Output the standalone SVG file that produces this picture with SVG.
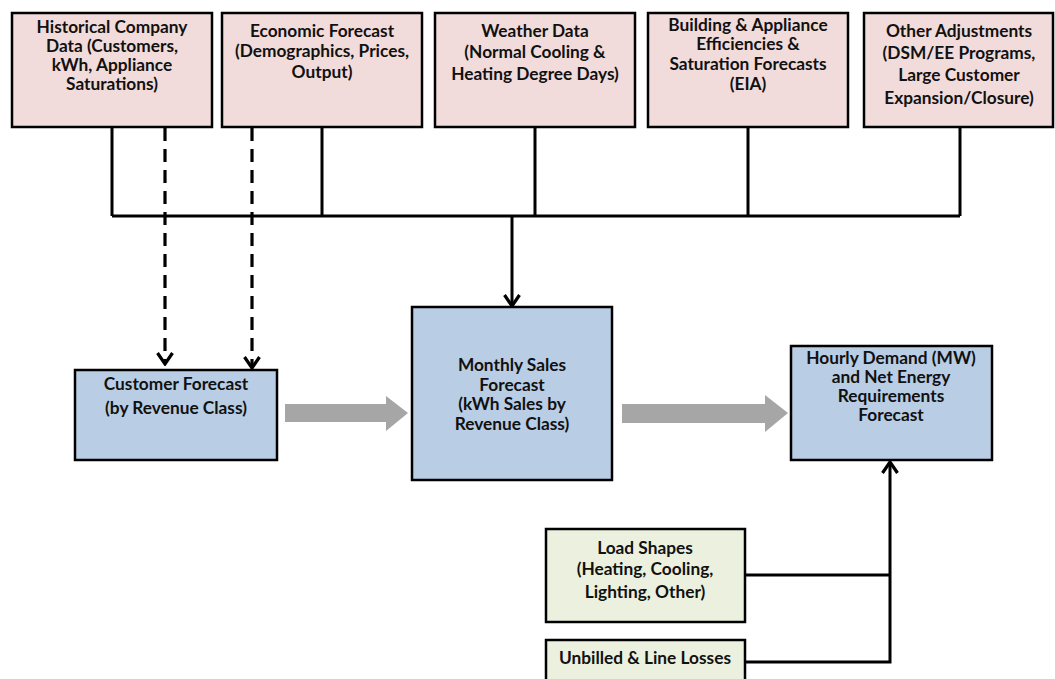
<svg xmlns="http://www.w3.org/2000/svg" width="1055" height="679" viewBox="0 0 1055 679">
<style>
.box{stroke:#000;stroke-width:2.5}
.pink{fill:#F2DCDB}.blue{fill:#B9CDE5}.green{fill:#EBF1DE}
text{font-family:Lato,"Open Sans","Liberation Sans",sans-serif;font-weight:700;font-size:17.3px;fill:#111;text-anchor:middle}
.ln{stroke:#000;stroke-width:3;fill:none}
.dash{stroke:#000;stroke-width:3.2;fill:none;stroke-dasharray:13 8}
.gray{fill:#A6A6A6}
</style>
<defs>
<marker id="ah" viewBox="0 0 18 18" refX="16" refY="9" markerWidth="18" markerHeight="18" markerUnits="userSpaceOnUse" orient="auto">
<path d="M5,1.5 L16,9 L5,16.5" fill="none" stroke="#000" stroke-width="3.2"/>
</marker>
</defs>
<g id="connectors">
<path class="ln" d="M112,127 V216 M322,127 V216 M535,127 V216 M748,127 V216 M960,127 V216 M112,216 H960"/>
<path class="ln" d="M512,216 V306" marker-end="url(#ah)"/>
<path class="dash" d="M165,128 V364" marker-end="url(#ah)"/>
<path class="dash" d="M252,128 V368" marker-end="url(#ah)"/>
<path class="gray" d="M285,404 H386 V396 L408,413 L386,431 V422 H285 Z"/>
<path class="gray" d="M622,404 H765 V395 L788,413 L765,432 V423 H622 Z"/>
<path class="ln" d="M745,575 H890 M745,662 H890 V462" marker-end="url(#ah)"/>
</g>
<g id="historical"><rect class="box pink" x="12" y="13" width="200" height="114"/>
<text x="112" y="33">Historical Company</text><text x="112" y="52">Data (Customers,</text><text x="112" y="71">kWh, Appliance</text><text x="112" y="90">Saturations)</text></g>
<g id="economic"><rect class="box pink" x="222" y="13" width="200" height="114"/>
<text x="322" y="37">Economic Forecast</text><text x="322" y="57">(Demographics, Prices,</text><text x="322" y="78">Output)</text></g>
<g id="weather"><rect class="box pink" x="435" y="13" width="200" height="114"/>
<text x="535" y="37">Weather Data</text><text x="535" y="58">(Normal Cooling &amp;</text><text x="535" y="80">Heating Degree Days)</text></g>
<g id="building"><rect class="box pink" x="648" y="13" width="200" height="114"/>
<text x="748" y="31">Building &amp; Appliance</text><text x="748" y="50">Efficiencies &amp;</text><text x="748" y="70">Saturation Forecasts</text><text x="748" y="90">(EIA)</text></g>
<g id="other"><rect class="box pink" x="864" y="13" width="189" height="114"/>
<text x="959" y="37">Other Adjustments</text><text x="959" y="59">(DSM/EE Programs,</text><text x="959" y="81">Large Customer</text><text x="959" y="104">Expansion/Closure)</text></g>
<g id="customer"><rect class="box blue" x="75" y="370" width="202" height="90"/>
<text x="176" y="390">Customer Forecast</text><text x="176" y="414">(by Revenue Class)</text></g>
<g id="monthly"><rect class="box blue" x="412" y="307" width="200" height="173"/>
<text x="512" y="371">Monthly Sales</text><text x="512" y="391">Forecast</text><text x="512" y="410">(kWh Sales by</text><text x="512" y="430">Revenue Class)</text></g>
<g id="hourly"><rect class="box blue" x="791" y="346" width="201" height="114"/>
<text x="891" y="364">Hourly Demand (MW)</text><text x="891" y="383">and Net Energy</text><text x="891" y="402">Requirements</text><text x="891" y="421">Forecast</text></g>
<g id="loadshapes"><rect class="box green" x="546" y="529" width="199" height="93"/>
<text x="645" y="554">Load Shapes</text><text x="645" y="575">(Heating, Cooling,</text><text x="645" y="598">Lighting, Other)</text></g>
<g id="unbilled"><rect class="box green" x="546" y="640" width="199" height="50"/>
<text x="645" y="664">Unbilled &amp; Line Losses</text></g>
</svg>
